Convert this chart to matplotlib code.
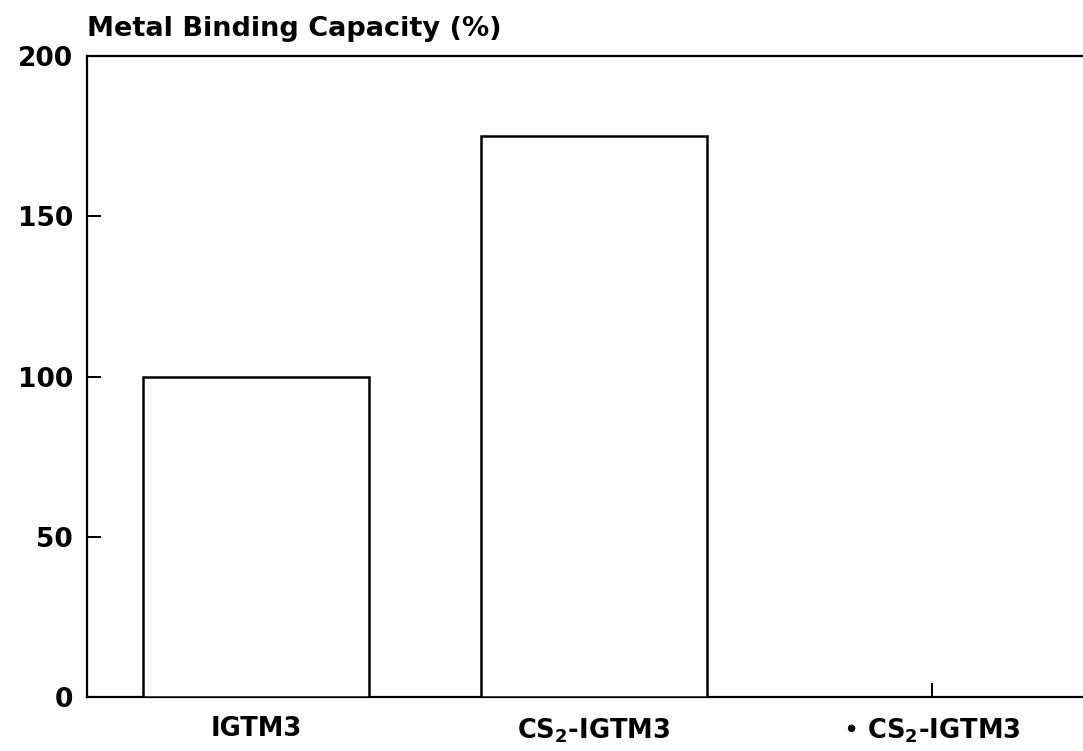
import matplotlib.pyplot as plt
import numpy as np

# Data
categories = ['IGTM3', 'CS$_\\mathbf{2}$-IGTM3', '• CS$_\\mathbf{2}$-IGTM3']
capacity = [100, 175, 0]

plt.rcParams['font.family'] = ['DejaVu Sans']
plt.rcParams['font.weight'] = 'bold'
plt.rcParams['mathtext.fontset'] = 'dejavusans'

fig = plt.figure(figsize=(10.83, 7.51), dpi=100)
ax = fig.add_axes([0.0803, 0.0719, 0.9197, 0.8535])

x = np.arange(len(categories))
ax.bar(x, capacity, width=0.67, facecolor='white', edgecolor='black', linewidth=1.8, zorder=3)

ax.set_xlim(-0.5, 2.447)
ax.set_ylim(0, 200)
ax.set_yticks([0, 50, 100, 150, 200])
ax.set_xticks(x)
ax.set_xticklabels(categories, fontsize=18.5, fontweight='bold')
for lab in ax.get_yticklabels():
    lab.set_fontsize(19)
    lab.set_fontweight('bold')

ax.tick_params(axis='both', direction='in', length=10, width=1.4, colors='black')
ax.tick_params(axis='x', pad=14)
ax.tick_params(axis='y', pad=10)

for side in ['left', 'top', 'bottom']:
    ax.spines[side].set_linewidth(1.6)
ax.spines['right'].set_visible(False)

fig.text(0.0803, 1 - 36 / 751, 'Metal Binding Capacity (%)', fontsize=19.5, fontweight='bold',
         ha='left', va='baseline')

plt.savefig('out.png', dpi=100)
